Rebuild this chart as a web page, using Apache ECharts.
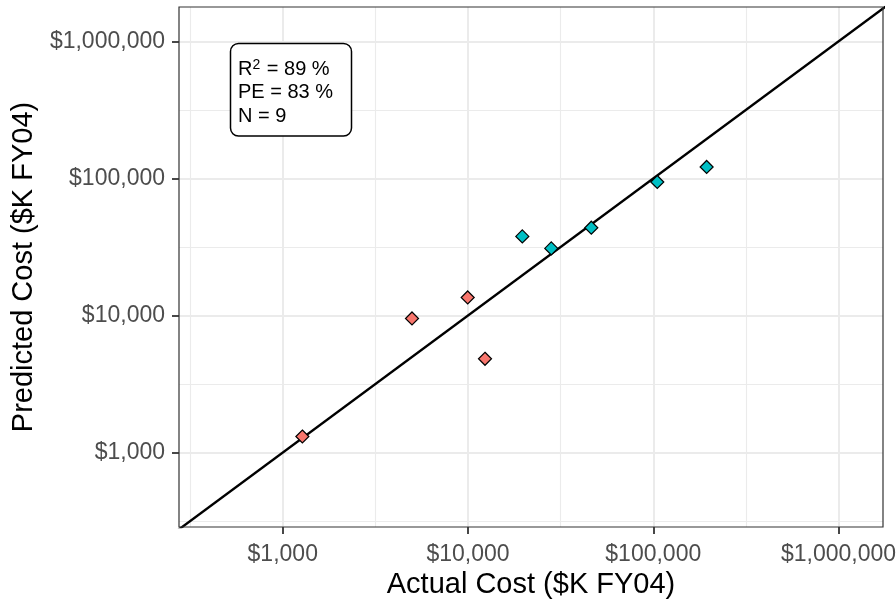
<!DOCTYPE html>
<html>
<head>
<meta charset="utf-8">
<script src="https://cdn.jsdelivr.net/npm/echarts@6/dist/echarts.min.js"></script>
<style>
html,body{margin:0;padding:0;background:#fff;}
#chart{width:896px;height:599px;}
</style>
</head>
<body>
<div id="chart"></div>
<script>
// Data ($K FY04)
const groupA_actual    = [1276, 4985, 9960, 12350];
const groupA_predicted = [1309, 9510, 13530, 4830];
const groupB_actual    = [19640, 28150, 46290, 105100, 194100];
const groupB_predicted = [37720, 30830, 43650, 94120, 121100];

const majorBreaks = [1000, 10000, 100000, 1000000];
const xMinorBreaks = [316.23, 3162.3, 31623, 316228];
const yMinorBreaks = [316.23, 3162.3, 31623, 316228];

const xMin = 275.4, xMax = 1737800;
const yMin = 286.4, yMax = 1778279;

function money(v) {
  return '$' + Math.round(v).toLocaleString('en-US');
}

const FONT = '"Liberation Sans", Arial, Helvetica, sans-serif';

const gridLines = [];
majorBreaks.forEach(v => {
  gridLines.push({xAxis: v, lineStyle: {color: '#EBEBEB', width: 2, type: 'solid'}});
  gridLines.push({yAxis: v, lineStyle: {color: '#EBEBEB', width: 2, type: 'solid'}});
});
xMinorBreaks.forEach(v => gridLines.push({xAxis: v, lineStyle: {color: '#EBEBEB', width: 1.1, type: 'solid'}}));
yMinorBreaks.forEach(v => gridLines.push({yAxis: v, lineStyle: {color: '#EBEBEB', width: 1.1, type: 'solid'}}));

const chart = echarts.init(document.getElementById('chart'), null, {renderer: 'canvas'});

chart.setOption({
  animation: false,
  backgroundColor: '#ffffff',
  textStyle: {fontFamily: FONT},
  grid: {left: 179, right: 13, top: 7, bottom: 72, containLabel: false, outerBoundsMode: 'none',
         show: true, borderColor: '#333333', borderWidth: 1.2, backgroundColor: 'transparent', z: 10},
  xAxis: {
    type: 'log', logBase: 10, min: xMin, max: xMax,
    name: 'Actual Cost ($K FY04)', nameLocation: 'middle', nameGap: 42,
    nameTextStyle: {fontSize: 29, color: '#000', fontFamily: FONT},
    axisLine: {show: false},
    axisTick: {show: true, customValues: majorBreaks, length: 7, lineStyle: {color: '#333333', width: 1.8}},
    axisLabel: {show: true, customValues: majorBreaks, fontSize: 23, color: '#4D4D4D', margin: 16, fontFamily: FONT, formatter: v => money(v)},
    splitLine: {show: false}, minorSplitLine: {show: false}
  },
  yAxis: {
    type: 'log', logBase: 10, min: yMin, max: yMax,
    name: 'Predicted Cost ($K FY04)', nameLocation: 'middle', nameGap: 132,
    nameTextStyle: {fontSize: 29, color: '#000', fontFamily: FONT},
    axisLine: {show: false},
    axisTick: {show: true, customValues: majorBreaks, length: 7, lineStyle: {color: '#333333', width: 1.8}},
    axisLabel: {show: true, customValues: majorBreaks, fontSize: 23, color: '#4D4D4D', margin: 14, fontFamily: FONT, formatter: v => money(v)},
    splitLine: {show: false}, minorSplitLine: {show: false}
  },
  graphic: [
    {type: 'rect', z: 100, shape: {x: 230.5, y: 43.5, width: 121, height: 92.5, r: 8},
     style: {fill: '#fff', stroke: '#000', lineWidth: 1.5}},
    {type: 'text', z: 101, x: 238, y: 58,
     style: {
       text: '{r|R}{s|2}{r| = 89 %}\n{r|PE = 83 %}\n{r|N = 9}',
       fontFamily: FONT,
       rich: {
         r: {fontSize: 20, lineHeight: 23.3, fill: '#000', fontFamily: FONT},
         s: {fontSize: 14, lineHeight: 23.3, fill: '#000', fontFamily: FONT, verticalAlign: 'top', padding: [0, 1, 0, 0]}
       }
     }}
  ],
  series: [
    {
      type: 'line', name: 'grid', data: [], silent: true, z: 1,
      markLine: {silent: true, z: 1, symbol: 'none', label: {show: false}, animation: false, data: gridLines}
    },
    {
      type: 'line', name: 'identity', z: 6, silent: true, clip: true,
      data: [[10, 10], [1e7, 1e7]], symbol: 'none',
      lineStyle: {color: '#000', width: 2.4}
    },
    {
      type: 'scatter', name: 'A', z: 7, symbol: 'diamond', symbolSize: 13,
      data: groupA_actual.map((v, i) => [v, groupA_predicted[i]]),
      itemStyle: {color: '#F8766D', borderColor: '#000', borderWidth: 1.2, opacity: 1}
    },
    {
      type: 'scatter', name: 'B', z: 7, symbol: 'diamond', symbolSize: 13,
      data: groupB_actual.map((v, i) => [v, groupB_predicted[i]]),
      itemStyle: {color: '#00BFC4', borderColor: '#000', borderWidth: 1.2, opacity: 1}
    }
  ]
});
</script>
</body>
</html>
